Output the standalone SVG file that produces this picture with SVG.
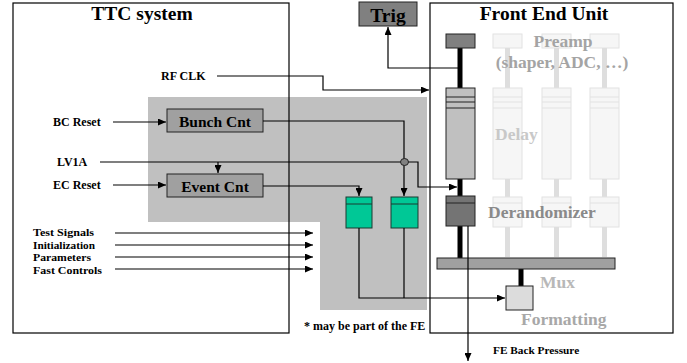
<svg xmlns="http://www.w3.org/2000/svg" width="687" height="363" viewBox="0 0 687 363">
<style>
text{font-family:"Liberation Serif","Times New Roman",serif;font-weight:bold;fill:#000}
.big{font-size:19.5px}
.lbl{font-size:12px}
.lst{font-size:10.4px}
.node{font-size:15.5px}
.fade{font-size:17.5px}
.frame{fill:none;stroke:#000;stroke-width:1.2}
.box{stroke:#222;stroke-width:1}
.ln{fill:none;stroke:#000;stroke-width:1.2}
.thick{stroke:#000;stroke-width:5}
.fbox{fill:#f6f6f6;stroke:#e2e2e2;stroke-width:1}
.fbar{stroke:#dedede;stroke-width:5}
.fline{stroke:#e2e2e2;stroke-width:1}
.green{fill:#00c896;stroke:#1a3a30;stroke-width:1}
</style>
<defs>
<marker id="arr" markerUnits="userSpaceOnUse" markerWidth="8" markerHeight="7" refX="8" refY="3.5" orient="auto">
<path d="M0,0 L8,3.5 L0,7 z" fill="#000"/>
</marker>
</defs>
<rect width="687" height="363" fill="#fff"/>
<!-- shaded area (may be part of FE) -->
<polygon id="shade" points="148,97 427,97 427,310 320,310 320,222 148,222" fill="#c0c0c0"/>

<g id="ttc">
<rect class="frame" x="13" y="3" width="276" height="330"/>
<text class="big" x="142" y="20" text-anchor="middle">TTC system</text>
</g>

<g id="fe">
<rect class="frame" x="430" y="3" width="243" height="330"/>
<text class="big" x="544" y="20" text-anchor="middle">Front End Unit</text>
</g>

<g id="trig">
<rect class="box" x="359" y="2" width="58" height="24" fill="#808080"/>
<text class="big" x="388" y="22" text-anchor="middle">Trig</text>
</g>

<g id="faded-columns">
<g id="col1">
<rect class="fbox" x="493" y="34" width="29" height="14"/>
<line class="fbar" x1="507.5" y1="48" x2="507.5" y2="88"/>
<rect class="fbox" x="493" y="88" width="29" height="91"/>
<line class="fline" x1="493" y1="97" x2="522" y2="97"/><line class="fline" x1="493" y1="102" x2="522" y2="102"/><line class="fline" x1="493" y1="108" x2="522" y2="108"/>
<line class="fbar" x1="507.5" y1="179" x2="507.5" y2="197"/>
<rect class="fbox" x="493" y="197" width="29" height="30"/>
<line class="fline" x1="493" y1="203" x2="522" y2="203"/>
<line class="fbar" x1="507.5" y1="227" x2="507.5" y2="257"/>
</g>
<g id="col2">
<rect class="fbox" x="542" y="34" width="29" height="14"/>
<line class="fbar" x1="556.5" y1="48" x2="556.5" y2="88"/>
<rect class="fbox" x="542" y="88" width="29" height="91"/>
<line class="fline" x1="542" y1="97" x2="571" y2="97"/><line class="fline" x1="542" y1="102" x2="571" y2="102"/><line class="fline" x1="542" y1="108" x2="571" y2="108"/>
<line class="fbar" x1="556.5" y1="179" x2="556.5" y2="197"/>
<rect class="fbox" x="542" y="197" width="29" height="30"/>
<line class="fline" x1="542" y1="203" x2="571" y2="203"/>
<line class="fbar" x1="556.5" y1="227" x2="556.5" y2="257"/>
</g>
<g id="col3">
<rect class="fbox" x="590" y="34" width="29" height="14"/>
<line class="fbar" x1="604.5" y1="48" x2="604.5" y2="88"/>
<rect class="fbox" x="590" y="88" width="29" height="91"/>
<line class="fline" x1="590" y1="97" x2="619" y2="97"/><line class="fline" x1="590" y1="102" x2="619" y2="102"/><line class="fline" x1="590" y1="108" x2="619" y2="108"/>
<line class="fbar" x1="604.5" y1="179" x2="604.5" y2="197"/>
<rect class="fbox" x="590" y="197" width="29" height="30"/>
<line class="fline" x1="590" y1="203" x2="619" y2="203"/>
<line class="fbar" x1="604.5" y1="227" x2="604.5" y2="257"/>
</g>
</g>

<g id="fe-labels">
<text class="fade" x="563" y="47" text-anchor="middle" style="fill:#a4a4a4">Preamp</text>
<text class="fade" x="562" y="68" text-anchor="middle" style="fill:#a4a4a4">(shaper, ADC, …)</text>
<text class="fade" x="495" y="140" style="fill:#c8c8c8">Delay</text>
<text class="fade" x="488" y="218" style="fill:#8a8a8a">Derandomizer</text>
<text class="fade" x="540" y="288" style="fill:#b8b8b8">Mux</text>
<text class="fade" x="521" y="325" style="fill:#a8a8a8">Formatting</text>
</g>

<g id="pipeline">
<line class="thick" x1="460" y1="48" x2="460" y2="88"/>
<line class="thick" x1="460" y1="179" x2="460" y2="196"/>
<line class="thick" x1="460" y1="226" x2="460" y2="258"/>
<line class="thick" x1="521" y1="269" x2="521" y2="286"/>
</g>

<g id="preamp">
<rect class="box" x="446" y="34" width="29" height="14" fill="#808080"/>
</g>
<g id="delay">
<rect class="box" x="446" y="88" width="29" height="91" fill="#c0c0c0"/>
<line stroke="#222" x1="446" y1="97" x2="475" y2="97"/><line stroke="#222" x1="446" y1="102" x2="475" y2="102"/><line stroke="#222" x1="446" y1="108" x2="475" y2="108"/>
</g>
<g id="derandomizer">
<rect class="box" x="446" y="196" width="29" height="30" fill="#747474"/>
<line stroke="#222" x1="446" y1="203" x2="475" y2="203"/>
</g>
<g id="mux">
<rect class="box" x="437" y="258" width="178" height="11" fill="#a0a0a0"/>
</g>
<g id="formatting">
<rect class="box" x="506" y="286" width="27" height="24" fill="#dcdcdc"/>
</g>

<g id="bunch-cnt">
<rect class="box" x="167" y="109" width="96" height="23" fill="#a0a0a0"/>
<text class="node" x="215" y="126.5" text-anchor="middle">Bunch Cnt</text>
</g>
<g id="event-cnt">
<rect class="box" x="167" y="174" width="96" height="23" fill="#a0a0a0"/>
<text class="node" x="215" y="191.5" text-anchor="middle">Event Cnt</text>
</g>
<g id="buffer1">
<rect class="green" x="346" y="197" width="26" height="31"/>
<line stroke="#1a3a30" x1="346" y1="204" x2="372" y2="204"/>
</g>
<g id="buffer2">
<rect class="green" x="391" y="197" width="27" height="31"/>
<line stroke="#1a3a30" x1="391" y1="204" x2="418" y2="204"/>
</g>

<g id="labels">
<text class="lbl" x="161" y="80">RF CLK</text>
<text class="lbl" x="53" y="126">BC Reset</text>
<text class="lbl" x="57" y="166">LV1A</text>
<text class="lbl" x="53" y="189">EC Reset</text>
<text class="lst" x="33" y="236" textLength="61" lengthAdjust="spacingAndGlyphs">Test Signals</text>
<text class="lst" x="33" y="248.5" textLength="62" lengthAdjust="spacingAndGlyphs">Initialization</text>
<text class="lst" x="33" y="261" textLength="58" lengthAdjust="spacingAndGlyphs">Parameters</text>
<text class="lst" x="33" y="273.5" textLength="69" lengthAdjust="spacingAndGlyphs">Fast Controls</text>
<text class="lbl" x="304" y="330">* may be part of the FE</text>
<text class="lbl" x="493" y="354" style="font-size:11.3px">FE Back Pressure</text>
</g>

<g id="connectors">
<polyline class="ln" points="217,76 323,76 323,90 429,90" marker-end="url(#arr)"/>
<polyline class="ln" points="458,68 388,68 388,27" marker-end="url(#arr)"/>
<line class="ln" x1="113" y1="122" x2="166" y2="122" marker-end="url(#arr)"/>
<line class="ln" x1="113" y1="185" x2="166" y2="185" marker-end="url(#arr)"/>
<line class="ln" x1="100" y1="162" x2="401" y2="162"/>
<line class="ln" x1="218" y1="162" x2="218" y2="173" marker-end="url(#arr)"/>
<polyline class="ln" points="408,162 418,162 418,187 457,187" marker-end="url(#arr)"/>
<polyline class="ln" points="263,121 404,121 404,196" marker-end="url(#arr)"/>
<polyline class="ln" points="263,186 359,186 359,196" marker-end="url(#arr)"/>
<ellipse cx="404.5" cy="162" rx="4" ry="3.5" fill="#808080" stroke="#222" stroke-width="1"/>
<polyline class="ln" points="359,228 359,298 505,298" marker-end="url(#arr)"/>
<line class="ln" x1="404" y1="228" x2="404" y2="298"/>
<line class="ln" x1="115" y1="233" x2="313" y2="233" marker-end="url(#arr)"/>
<line class="ln" x1="115" y1="245" x2="313" y2="245" marker-end="url(#arr)"/>
<line class="ln" x1="115" y1="257" x2="313" y2="257" marker-end="url(#arr)"/>
<line class="ln" x1="115" y1="269" x2="313" y2="269" marker-end="url(#arr)"/>
<line class="ln" x1="468" y1="226" x2="468" y2="361" marker-end="url(#arr)"/>
</g>
</svg>
